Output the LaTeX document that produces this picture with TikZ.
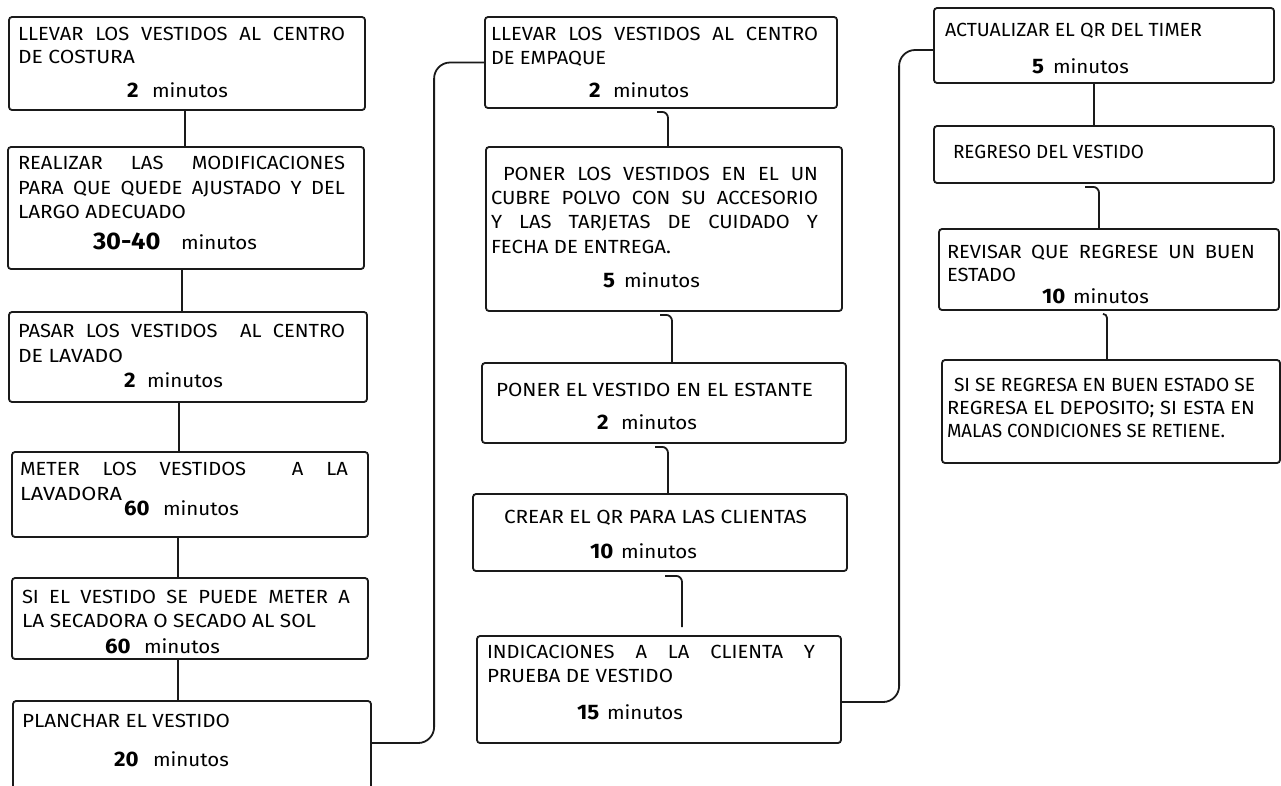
\documentclass[tikz,border=0pt]{standalone}
\usepackage{fontspec}
\setmainfont{Fira Sans}[FakeStretch=1.06]
\usepackage{graphicx}
\newsavebox\linebox
\newcommand\jline[2]{\sbox\linebox{#2}\ifdim\wd\linebox>#1pt\relax\resizebox{#1pt}{\height}{#2}\else\makebox[#1pt][s]{#2}\fi}
\newcommand\fitw[2]{\resizebox{#1pt}{\height}{#2}}
\newcommand\dur[2]{\makebox[#1pt][l]{\fontsize{21}{25}\selectfont\bfseries #2}\resizebox{76pt}{\height}{minutos}}
\definecolor{ink}{HTML}{1A1A1A}
\tikzset{
  box/.style={draw=ink, line width=1.8pt, rounded corners=3pt, inner sep=0pt, fill=white},
  conn/.style={draw=ink, line width=1.8pt},
  txt/.style={anchor=base west, inner sep=0pt, outer sep=0pt, text=black, font=\fontsize{19}{23}\selectfont},
  big/.style={txt, font=\fontsize{24}{28}\selectfont}
}
\begin{document}
\begin{tikzpicture}[x=1pt,y=-1pt]
\path[use as bounding box] (0,0) rectangle (1281,785);
\clip (0,0) rectangle (1281,785);
\fill[white] (0,0) rectangle (1281,785);

% boxes
\node[box, minimum width=356pt, minimum height=93pt]  (A) at (187,63.5) {};
\node[box, minimum width=356pt, minimum height=122pt] (B) at (186,208) {};
\node[box, minimum width=358pt, minimum height=90pt]  (C) at (188,357) {};
\node[box, minimum width=356pt, minimum height=85pt]  (D) at (190,494.5) {};
\node[box, minimum width=356pt, minimum height=81pt]  (E) at (190,618.5) {};
\node[box, minimum width=358pt, minimum height=104pt] (F) at (192,753) {};
\node[box, minimum width=352pt, minimum height=91pt]  (G) at (661,62.5) {};
\node[box, minimum width=356pt, minimum height=164pt] (H) at (664,229) {};
\node[box, minimum width=364pt, minimum height=80pt]  (I) at (664,403) {};
\node[box, minimum width=374pt, minimum height=77pt]  (J) at (660,532.5) {};
\node[box, minimum width=364pt, minimum height=107pt] (K) at (659,689.5) {};
\node[box, minimum width=340pt, minimum height=75pt]  (L) at (1104,45.5) {};
\node[box, minimum width=340pt, minimum height=57pt]  (M) at (1104,154.5) {};
\node[box, minimum width=340pt, minimum height=81pt]  (N) at (1109,269.5) {};
\node[box, minimum width=338pt, minimum height=103pt] (O) at (1111,411.5) {};

% connectors
\draw[conn] ([xshift=-2pt]A.south) -- ([xshift=-1pt]B.north);
\draw[conn] ([xshift=-4pt]B.south) -- ([xshift=-6pt]C.north);
\draw[conn] ([xshift=-9pt]C.south) -- ([xshift=-11pt]D.north);
\draw[conn] ([xshift=-12pt]D.south) -- ([xshift=-12pt]E.north);
\draw[conn] ([xshift=-12pt]E.south) -- ([xshift=-14pt]F.north);
\draw[conn, rounded corners=16pt] ([yshift=10pt]F.east) -| ([xshift=-50pt]G.west) -- (G.west);
\draw[conn, rounded corners=6pt] ([xshift=-4pt,yshift=-3pt]G.south) -| ([xshift=4pt]H.north);
\draw[conn, rounded corners=6pt] ([xshift=-4pt,yshift=-3pt]H.south) -| ([xshift=8pt]I.north);
\draw[conn, rounded corners=6pt] ([xshift=-9pt,yshift=-3pt]I.south) -| ([xshift=8pt]J.north);
\draw[conn, rounded corners=6pt] ([xshift=5pt,yshift=-4pt]J.south) -| ([xshift=23pt,yshift=8pt]K.north);
\draw[conn, rounded corners=16pt] ([yshift=-12.5pt]K.east) -| ([xshift=-34pt,yshift=-4.5pt]L.west) -- ([yshift=-4.5pt]L.west);
\draw[conn] ([xshift=-10pt]L.south) -- ([xshift=-10pt]M.north);
\draw[conn, rounded corners=6pt] ([xshift=-19pt,yshift=-3pt]M.south) -| ([xshift=-10pt]N.north);
\draw[conn, rounded corners=4pt] ([xshift=-6pt,yshift=-3pt]N.south) -| ([xshift=-4pt]O.north);

% texts column 1
\node[txt] (a1) at (18,40) {\jline{327}{LLEVAR LOS VESTIDOS AL CENTRO}};
\node[txt] (a2) at (18,63) {\fitw{117}{DE COSTURA}};
\node[txt] (a3) at (127,97) {\dur{25}{2}};
\node[txt] (b1) at (18,169) {\jline{327}{REALIZAR LAS MODIFICACIONES}};
\node[txt] (b2) at (18,194) {\jline{327}{PARA QUE QUEDE AJUSTADO Y DEL}};
\node[txt] (b3) at (18,218) {\fitw{168}{LARGO ADECUADO}};
\node[big] (b4) at (93,249) {\bfseries 30-40};
\node[txt] (b5) at (181,249) {\resizebox{76pt}{\height}{minutos}};
\node[txt] (c1) at (18,337) {\jline{327}{PASAR LOS VESTIDOS \ AL CENTRO}};
\node[txt] (c2) at (18,362) {\fitw{105}{DE LAVADO}};
\node[txt] (c3) at (124,387) {\dur{23}{2}};
\node[txt] (d1) at (20,475) {\jline{328}{METER LOS VESTIDOS \ A LA}};
\node[txt] (d2) at (20,500) {\fitw{102}{LAVADORA}};
\node[txt] (d3) at (124,515) {\dur{39}{60}};
\node[txt] (e1) at (22,603) {\jline{328}{SI EL VESTIDO SE PUEDE METER A}};
\node[txt] (e2) at (22,627) {\fitw{294}{LA SECADORA O SECADO AL SOL}};
\node[txt] (e3) at (105,653) {\dur{39}{60}};
\node[txt] (f1) at (22,727) {\fitw{208}{PLANCHAR EL VESTIDO}};
\node[txt] (f2) at (114,766) {\dur{39}{20}};

% texts column 2
\node[txt] (g1) at (491,40) {\jline{327}{LLEVAR LOS VESTIDOS AL CENTRO}};
\node[txt] (g2) at (491,64) {\fitw{115}{DE EMPAQUE}};
\node[txt] (g3) at (589,97) {\dur{24}{2}};
\node[txt] (h1) at (503,180) {\jline{315}{PONER LOS VESTIDOS EN EL UN}};
\node[txt] (h2) at (491,204) {\jline{327}{CUBRE POLVO CON SU ACCESORIO}};
\node[txt] (h3) at (491,228) {\jline{327}{Y LAS TARJETAS DE CUIDADO Y}};
\node[txt] (h4) at (491,253) {\fitw{180}{FECHA DE ENTREGA.}};
\node[txt] (h5) at (603,287) {\dur{21}{5}};
\node[txt] (i1) at (496,396) {\fitw{317}{PONER EL VESTIDO EN EL ESTANTE}};
\node[txt] (i2) at (597,429) {\dur{24}{2}};
\node[txt] (j1) at (504,523) {\fitw{303}{CREAR EL QR PARA LAS CLIENTAS}};
\node[txt] (j2) at (590,558) {\dur{31}{10}};
\node[txt] (k1) at (487,658) {\jline{328}{INDICACIONES \ A \ LA \ CLIENTA \ Y}};
\node[txt] (k2) at (487,682) {\fitw{186}{PRUEBA DE VESTIDO}};
\node[txt] (k3) at (577,719) {\dur{30}{15}};

% texts column 3
\node[txt] (l1) at (945,36) {\fitw{257}{ACTUALIZAR EL QR DEL TIMER}};
\node[txt] (l2) at (1032,73) {\dur{21}{5}};
\node[txt] (m1) at (953,158) {\fitw{191}{REGRESO DEL VESTIDO}};
\node[txt] (n1) at (947,258) {\jline{308}{REVISAR QUE REGRESE UN BUEN}};
\node[txt] (n2) at (947,281) {\fitw{69}{ESTADO}};
\node[txt] (n3) at (1042,303) {\dur{31}{10}};
\node[txt] (o1) at (954,391) {\jline{301}{SI SE REGRESA EN BUEN ESTADO SE}};
\node[txt] (o2) at (947,414) {\jline{308}{REGRESA EL DEPOSITO; SI ESTA EN}};
\node[txt] (o3) at (947,437) {\fitw{278}{MALAS CONDICIONES SE RETIENE.}};
\end{tikzpicture}
\end{document}
